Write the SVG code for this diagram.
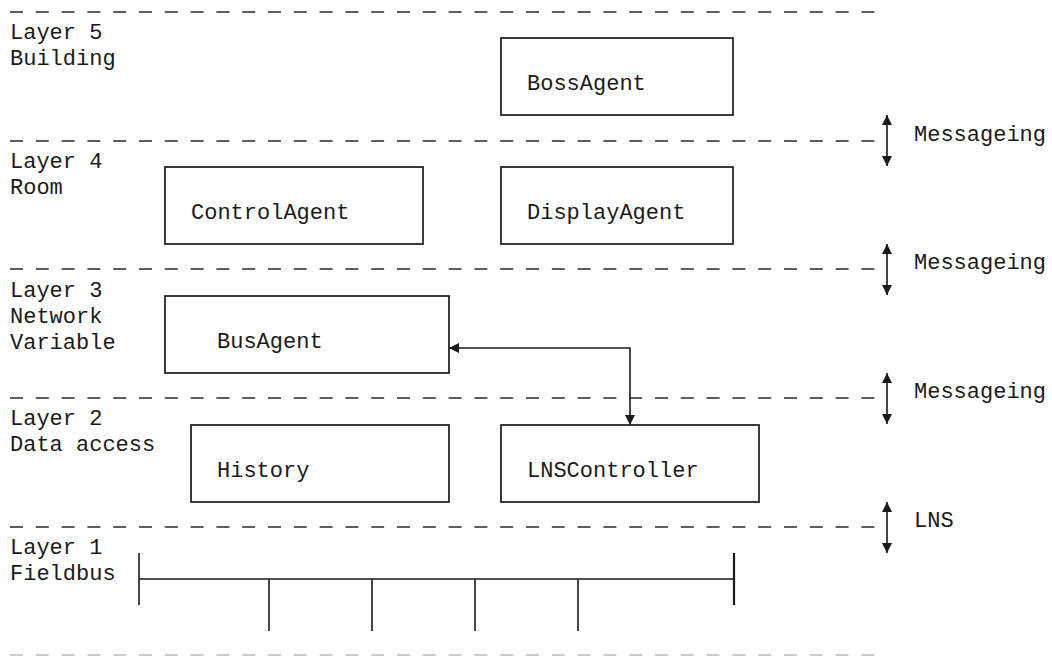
<svg xmlns="http://www.w3.org/2000/svg" width="1052" height="657" viewBox="0 0 1052 657">
<style>
  text { font-family: "Liberation Mono", "Courier New", monospace; font-size: 22px; fill: #1a1a1a; }
  .sep { stroke: #2a2a2a; stroke-width: 1.6; stroke-dasharray: 13 12.8; fill: none; }
  .sep-light { stroke: #bbb; stroke-width: 1.6; stroke-dasharray: 13 12.8; fill: none; }
  .box { fill: #fff; stroke: #1a1a1a; stroke-width: 1.7; }
  .conn { stroke: #1a1a1a; stroke-width: 1.6; fill: none; }
  .bus { stroke: #1a1a1a; stroke-width: 1.6; fill: none; }
</style>
<defs>
  <marker id="ah" viewBox="0 0 10 10" refX="10" refY="5" markerWidth="13" markerHeight="10" markerUnits="userSpaceOnUse" orient="auto-start-reverse">
    <path d="M0,0 L10,5 L0,10 Z" fill="#1a1a1a"/>
  </marker>
</defs>
<rect width="1052" height="657" fill="#fff"/>

<g id="separators">
  <line class="sep" x1="10" y1="12" x2="876" y2="12"/>
  <line class="sep" x1="10" y1="141" x2="876" y2="141"/>
  <line class="sep" x1="10" y1="269" x2="876" y2="269"/>
  <line class="sep" x1="10" y1="398" x2="876" y2="398"/>
  <line class="sep" x1="10" y1="527" x2="876" y2="527"/>
  <line class="sep-light" x1="10" y1="655" x2="876" y2="655"/>
</g>

<g id="layer-labels">
  <text x="10" y="39">Layer 5</text>
  <text x="10" y="65">Building</text>
  <text x="10" y="168">Layer 4</text>
  <text x="10" y="194">Room</text>
  <text x="10" y="297">Layer 3</text>
  <text x="10" y="323">Network</text>
  <text x="10" y="349">Variable</text>
  <text x="10" y="425">Layer 2</text>
  <text x="10" y="451">Data access</text>
  <text x="10" y="554">Layer 1</text>
  <text x="10" y="580">Fieldbus</text>
</g>

<g id="BossAgent">
  <rect class="box" x="501" y="38" width="232" height="77"/>
  <text x="527" y="90">BossAgent</text>
</g>
<g id="ControlAgent">
  <rect class="box" x="165" y="167" width="258" height="77"/>
  <text x="191" y="219">ControlAgent</text>
</g>
<g id="DisplayAgent">
  <rect class="box" x="501" y="167" width="232" height="77"/>
  <text x="527" y="219">DisplayAgent</text>
</g>
<g id="BusAgent">
  <rect class="box" x="165" y="296" width="284" height="77"/>
  <text x="217" y="348">BusAgent</text>
</g>
<g id="History">
  <rect class="box" x="191" y="425" width="258" height="77"/>
  <text x="217" y="477">History</text>
</g>
<g id="LNSController">
  <rect class="box" x="501" y="425" width="258" height="77"/>
  <text x="527" y="477">LNSController</text>
</g>

<g id="Fieldbus">
  <line class="bus" x1="139" y1="579" x2="734" y2="579"/>
  <line class="bus" x1="139" y1="553" x2="139" y2="605"/>
  <line class="bus" x1="734" y1="553" x2="734" y2="605" style="stroke-width:2.2"/>
  <line class="bus" x1="269" y1="579" x2="269" y2="631"/>
  <line class="bus" x1="372" y1="579" x2="372" y2="631"/>
  <line class="bus" x1="475" y1="579" x2="475" y2="631"/>
  <line class="bus" x1="578" y1="579" x2="578" y2="631"/>
</g>

<g id="connectors">
  <polyline class="conn" points="449,348 630,348 630,425" marker-start="url(#ah)" marker-end="url(#ah)"/>
  <line class="conn" x1="887" y1="115" x2="887" y2="166" marker-start="url(#ah)" marker-end="url(#ah)"/>
  <line class="conn" x1="887" y1="244" x2="887" y2="295" marker-start="url(#ah)" marker-end="url(#ah)"/>
  <line class="conn" x1="887" y1="373" x2="887" y2="424" marker-start="url(#ah)" marker-end="url(#ah)"/>
  <line class="conn" x1="887" y1="502" x2="887" y2="553" marker-start="url(#ah)" marker-end="url(#ah)"/>
</g>

<g id="interface-labels">
  <text x="914" y="141">Messageing</text>
  <text x="914" y="269">Messageing</text>
  <text x="914" y="398">Messageing</text>
  <text x="914" y="527">LNS</text>
</g>
</svg>
